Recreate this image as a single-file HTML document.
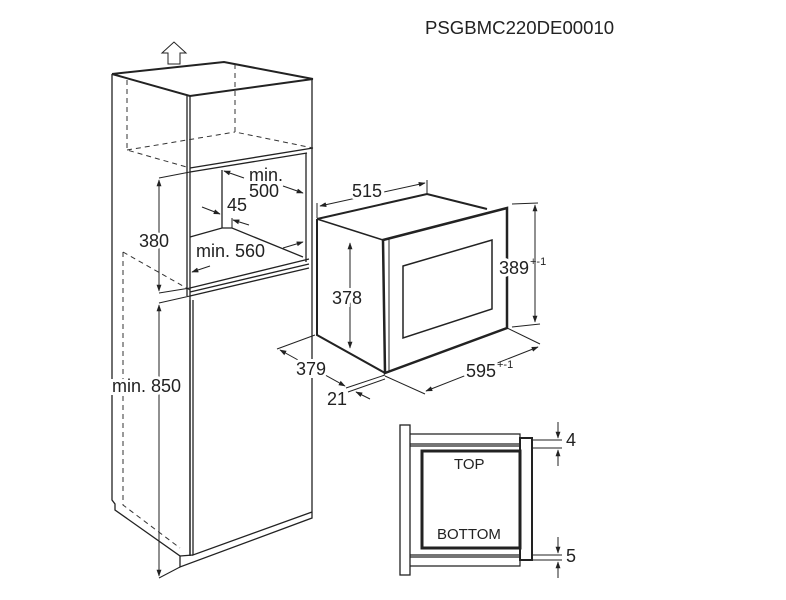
<!DOCTYPE html>
<html><head><meta charset="utf-8"><style>
html,body{margin:0;padding:0;background:#fff;}
svg{display:block;}
text{font-family:"Liberation Sans",sans-serif;fill:#222;}
.w{fill:#fff;stroke:#fff;stroke-width:6;}
</style></head><body>
<svg width="786" height="600" viewBox="0 0 786 600" xmlns="http://www.w3.org/2000/svg">
<defs>
<marker id="a" viewBox="0 0 10 10" refX="9" refY="5" markerWidth="7" markerHeight="7" orient="auto-start-reverse"><path d="M0,1.5 L10,5 L0,8.5 z" fill="#222"/></marker>
</defs>
<text x="425" y="34" font-size="18.6">PSGBMC220DE00010</text>

<g fill="none" stroke="#222" stroke-width="1.3">
<path d="M168,64 L168,53 L162,53 L174,42 L186,53 L180,53 L180,64 Z" stroke-width="1"/>
<path d="M112,74 L112,500 L115,504 L115,510 L180,556 L180,567 L312,518 L312,79" />
<path d="M112,74 L224,62 L313,79" stroke-width="2"/>
<path d="M112,74 L190,96 L313,79" stroke-width="2"/>
<path d="M190,96 L190,555"/>
<path d="M187,96 L187,296"/>
<path d="M190,168 L313,148"/>
<path d="M190,172 L307,153"/>
<path d="M306,153 L306,262"/>
<path d="M222,170 L222,228 M190,237 L222,228 L232,228 L303,257"/>
<path d="M190,288 L309,259 M190,292 L309,264 M190,296 L309,268"/>
<path d="M190,300 L190,556 M193,300 L193,555 L312,512"/>
<path d="M180,556 L193,555"/>
</g>
<g fill="none" stroke="#333" stroke-width="1" stroke-dasharray="5,4">
<path d="M127,80 L127,150 L190,168 M235,64 L235,132 L313,148 M127,150 L235,132"/>
<path d="M123,252 L123,505 L180,548 M123,252 L190,290"/>
</g>
<g fill="none" stroke="#222" stroke-width="1">
<path d="M159,178 L190,172 M159,293 L190,288 M159,303 L190,296 M159,578 L180,567"/>
<path d="M159,180 L159,291" marker-start="url(#a)" marker-end="url(#a)"/>
<path d="M159,305 L159,576" marker-start="url(#a)" marker-end="url(#a)"/>
<path d="M244,178 L224,171" marker-end="url(#a)"/>
<path d="M283,186 L303,193" marker-end="url(#a)"/>
<path d="M202,207 L220,214" marker-end="url(#a)"/>
<path d="M232,228 L232,218"/>
<path d="M249,225 L233,220" marker-end="url(#a)"/>
<path d="M283,248 L303,242" marker-end="url(#a)"/>
<path d="M210,266 L192,272" marker-end="url(#a)"/>
</g>
<g font-size="18">
<text x="139" y="247" class="w">380</text>
<text x="139" y="247">380</text>
<text x="112" y="392" class="w">min. 850</text>
<text x="112" y="392">min. 850</text>
<text x="249" y="181">min.</text>
<text x="249" y="197">500</text>
<text x="227" y="211">45</text>
<text x="196" y="257">min. 560</text>
</g>

<g fill="none" stroke="#222">
<path d="M317,219 L427,194 L487,209" stroke-width="2"/>
<path d="M317,219 L383,240" stroke-width="1.5"/>
<path d="M317,219 L317,335 L385,373" stroke-width="2"/>
<path d="M383,240 L507,208 L507,328 L385,373 Z" stroke-width="2.5"/>
<path d="M389,239 L389,371" stroke-width="1"/>
<path d="M403,266 L492,240 L492,309 L403,338 Z" stroke-width="1.5"/>
</g>
<g fill="none" stroke="#222" stroke-width="1">
<path d="M317,218 L317,203 M427,194 L427,180 M512,204 L538,203 M512,327 L540,324"/>
<path d="M320,206 L425,183" marker-start="url(#a)" marker-end="url(#a)"/>
<path d="M535,205 L535,322" marker-start="url(#a)" marker-end="url(#a)"/>
<path d="M350,243 L350,348" marker-start="url(#a)" marker-end="url(#a)"/>
<path d="M315,335 L277,349 M385,375 L346,388 M385,379 L348,392 M385,376 L425,394 M507,328 L540,344"/>
<path d="M280,350 L345,386" marker-start="url(#a)" marker-end="url(#a)"/>
<path d="M370,399 L356,392" marker-end="url(#a)"/>
<path d="M426,391 L538,347" marker-start="url(#a)" marker-end="url(#a)"/>
</g>
<g font-size="18">
<text x="352" y="197" class="w">515</text>
<text x="352" y="197">515</text>
<text x="332" y="304" class="w">378</text>
<text x="332" y="304">378</text>
<text x="499" y="274" class="w">389</text>
<text x="499" y="274">389</text><text x="530" y="265" font-size="11">+-1</text>
<text x="296" y="375" class="w">379</text>
<text x="296" y="375">379</text>
<text x="327" y="405">21</text>
<text x="466" y="377" class="w">595</text>
<text x="466" y="377">595</text><text x="497" y="368" font-size="11">+-1</text>
</g>

<g fill="none" stroke="#222">
<rect x="400" y="425" width="10" height="150" stroke-width="1.3"/>
<path d="M410,434 L520,434 L520,444 L410,444 M410,446 L520,446" stroke-width="1.2"/>
<path d="M410,555 L520,555 M410,557 L520,557 L520,566 L410,566" stroke-width="1.2"/>
<rect x="520" y="438" width="12" height="122" stroke-width="2"/>
<rect x="422" y="451" width="98" height="97" stroke-width="3"/>
<path d="M532,440 L562,440 M532,448 L562,448 M532,555 L562,555 M532,560 L562,560" stroke-width="1"/>
<path d="M558,422 L558,438" stroke-width="1" marker-end="url(#a)"/>
<path d="M558,466 L558,450" stroke-width="1" marker-end="url(#a)"/>
<path d="M558,537 L558,553" stroke-width="1" marker-end="url(#a)"/>
<path d="M558,578 L558,562" stroke-width="1" marker-end="url(#a)"/>
</g>
<g font-size="15">
<text x="454" y="469">TOP</text>
<text x="437" y="539">BOTTOM</text>
</g>
<g font-size="18">
<text x="566" y="446">4</text>
<text x="566" y="562">5</text>
</g>
</svg>
</body></html>
